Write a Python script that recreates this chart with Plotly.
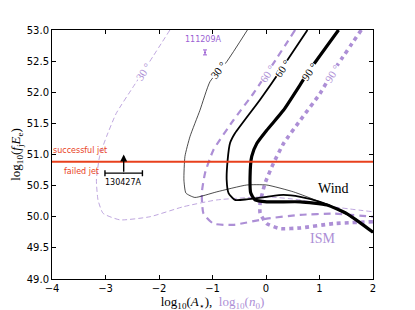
import plotly.graph_objects as go

# ---- data ----
wind30_x = [-0.348, -0.735, -1.047, -1.235, -1.42, -1.515, -1.534, -1.497, -1.33, -0.92, -0.36, 0.014, 0.513, 1.01, 1.32, 1.5, 1.75, 2.0]
wind30_y = [53.0, 52.49, 52.17, 51.71, 51.29, 50.97, 50.59, 50.38, 50.31, 50.40, 50.51, 50.51, 50.40, 50.24, 50.13, 50.05, 49.91, 49.75]

wind60_x = [0.775, 0.295, -0.111, -0.58, -0.673, -0.717, -0.735, -0.70, -0.58, -0.36, 0.014, 0.326, 0.64, 1.01, 1.32, 1.5, 1.75, 2.0]
wind60_y = [53.0, 52.38, 51.88, 51.34, 51.18, 50.91, 50.59, 50.38, 50.27, 50.28, 50.32, 50.35, 50.32, 50.24, 50.13, 50.05, 49.91, 49.75]

wind90_x = [1.356, 0.794, 0.638, 0.326, 0.014, -0.17, -0.267, -0.298, -0.285, -0.205, 0.014, 0.64, 1.14, 1.51, 1.75, 2.0]
wind90_y = [53.0, 52.33, 52.12, 51.71, 51.39, 51.18, 50.97, 50.64, 50.38, 50.27, 50.24, 50.24, 50.19, 50.05, 49.91, 49.75]

ism30_x = [-1.796, -2.296, -2.48, -2.80, -2.98, -3.11, -3.17, -3.14, -3.045, -2.73, -2.17, -1.55, -0.92, 0.014, 0.64, 1.26, 2.0]
ism30_y = [53.0, 52.33, 52.09, 51.66, 51.29, 50.97, 50.59, 50.27, 50.055, 49.95, 50.00, 50.16, 50.27, 50.32, 50.27, 50.16, 50.08]

ism60_x = [0.544, 0.014, -0.236, -0.61, -0.985, -1.14, -1.20, -1.17, -0.985, -0.61, 0.014, 0.64, 1.26, 2.0]
ism60_y = [53.0, 52.30, 51.98, 51.55, 51.07, 50.70, 50.38, 50.055, 49.89, 49.87, 49.97, 50.03, 50.05, 50.00]

ism90_x = [1.78, 1.23, 1.01, 0.64, 0.33, 0.14, -0.017, -0.11, -0.11, 0.014, 0.26, 0.64, 1.26, 2.0]
ism90_y = [53.0, 52.30, 51.98, 51.55, 51.18, 50.86, 50.54, 50.22, 50.055, 49.89, 49.81, 49.82, 49.89, 49.92]

jet_threshold = 50.885

grb130427_x = -2.66
grb130427_y = 50.70
grb130427_xerr = 0.35
grb130427_top = 51.0

grb111209_x = -1.14
grb111209_y = 52.64
grb111209_yerr = 0.04

x_ticks = [-4, -3, -2, -1, 0, 1, 2]
y_ticks = [49.0, 49.5, 50.0, 50.5, 51.0, 51.5, 52.0, 52.5, 53.0]

# ---- styling ----
LAV = "#ad8fd6"
PURPLE = "#9b5fd3"
RED = "#e8401c"
SERIF = "Liberation Serif, DejaVu Serif, serif"
SANS = "DejaVu Sans, sans-serif"

fig = go.Figure()

def curve(x, y, color, width, dash="solid"):
    fig.add_trace(go.Scatter(x=x, y=y, mode="lines",
                             line=dict(color=color, width=width, dash=dash, shape="spline", smoothing=0.5),
                             hoverinfo="skip", showlegend=False))

curve(ism30_x, ism30_y, LAV, 0.8, "5px,3px")
curve(ism60_x, ism60_y, LAV, 2.2, "7px,5px")
curve(ism90_x, ism90_y, LAV, 3.6, "4px,4px")
curve(wind30_x, wind30_y, "black", 0.7)
curve(wind60_x, wind60_y, "black", 1.8)
curve(wind90_x, wind90_y, "black", 3.2)

# red threshold line
fig.add_shape(type="line", xref="paper", x0=0, x1=1, yref="y", y0=jet_threshold, y1=jet_threshold,
              line=dict(color=RED, width=2))

# GRB 130427A
fig.add_trace(go.Scatter(x=[grb130427_x], y=[grb130427_y], mode="markers",
                         marker=dict(size=1, color="black"),
                         error_x=dict(type="constant", value=grb130427_xerr, color="black", thickness=1.4, width=3),
                         hoverinfo="skip", showlegend=False))
fig.add_annotation(x=grb130427_x, y=grb130427_top, ax=grb130427_x, ay=grb130427_y,
                   xref="x", yref="y", axref="x", ayref="y", text="", showarrow=True,
                   arrowhead=2, arrowsize=1, arrowwidth=1.4, arrowcolor="black")
fig.add_annotation(x=grb130427_x, y=grb130427_y - 0.15, text="130427A", showarrow=False,
                   font=dict(family=SANS, size=8, color="black"))

# GRB 111209A
fig.add_trace(go.Scatter(x=[grb111209_x], y=[grb111209_y], mode="markers",
                         marker=dict(size=2, color=PURPLE),
                         error_y=dict(type="constant", value=grb111209_yerr, color=PURPLE, thickness=1, width=2),
                         hoverinfo="skip", showlegend=False))
fig.add_annotation(x=grb111209_x - 0.02, y=grb111209_y + 0.2, text="111209A", showarrow=False,
                   font=dict(family=SANS, size=8, color=PURPLE))

# jet text
fig.add_annotation(x=-3.47, y=51.06, text="successful jet", showarrow=False,
                   font=dict(family=SANS, size=8, color=RED))
fig.add_annotation(x=-3.45, y=50.72, text="failed jet", showarrow=False,
                   font=dict(family=SANS, size=8, color=RED))

# region labels
fig.add_annotation(x=1.26, y=50.46, text="Wind", showarrow=False,
                   font=dict(family=SERIF, size=14, color="black"))
fig.add_annotation(x=1.06, y=49.65, text="ISM", showarrow=False,
                   font=dict(family=SERIF, size=14, color=LAV))

# contour labels
def clabel(x, y, text, color, angle):
    fig.add_annotation(x=x, y=y, text=text, showarrow=False, textangle=angle,
                       bgcolor="white", borderpad=0,
                       font=dict(family=SERIF, size=11, color=color))

clabel(-0.89, 52.36, "30 °", "black", -52)
clabel(0.295, 52.38, "60 °", "black", -55)
clabel(0.80, 52.33, "90 °", "black", -55)
clabel(-2.30, 52.33, "30 °", LAV, -57)
clabel(0.02, 52.30, "60 °", LAV, -57)
clabel(1.23, 52.30, "90 °", LAV, -57)

axis_common = dict(showgrid=False, zeroline=False, showline=True, linecolor="black", linewidth=1,
                   mirror="allticks", ticks="inside", ticklen=4, tickcolor="black", automargin=False,
                   tickfont=dict(family=SANS, size=10, color="black"))

fig.update_xaxes(range=[-4, 2], tickvals=x_ticks, ticktext=["−4", "−3", "−2", "−1", "0", "1", "2"],
                 title=dict(text="log<sub>10</sub>(<i>A</i><sub>⋆</sub>),  <span style='color:" + LAV + "'>log<sub>10</sub>(<i>n</i><sub>0</sub>)</span>",
                            font=dict(family=SERIF, size=13, color="black"), standoff=2),
                 **axis_common)
fig.update_yaxes(range=[49, 53], tickvals=y_ticks, ticktext=[f"{v:.1f}" for v in y_ticks],
                 title=dict(text="log<sub>10</sub>(<i>f</i><sub>j</sub><i>E</i><sub>e</sub>)",
                            font=dict(family=SERIF, size=13, color="black"), standoff=8),
                 **axis_common)

# page body has an 8px default margin, so offsets are compensated here
fig.update_layout(width=415, height=310, margin=dict(l=44, r=50, t=22, b=39),
                  paper_bgcolor="white", plot_bgcolor="white", showlegend=False)

fig.write_html("out.html")
